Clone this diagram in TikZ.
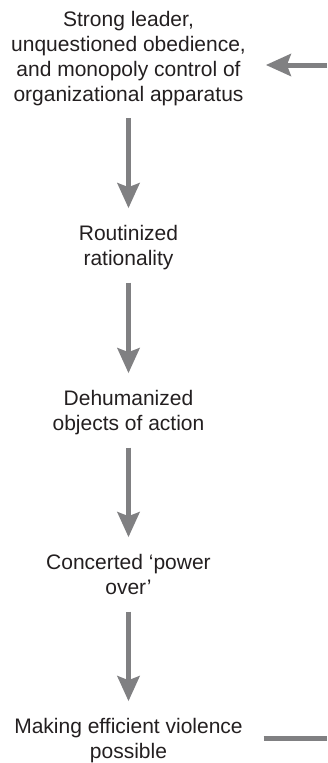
\documentclass[tikz,border=0pt]{standalone}
\usepackage{fontspec}
\setmainfont{Liberation Sans}
\usetikzlibrary{arrows.meta}
\definecolor{flowgray}{RGB}{128,128,130}
\definecolor{inkgray}{RGB}{35,31,32}
\begin{document}
\begin{tikzpicture}[x=1pt,y=1pt,
  stage/.style={align=center, inner sep=0pt, outer sep=0pt, anchor=north,
    text=inkgray, font=\fontsize{21}{24.7}\selectfont},
  flow/.style={draw=flowgray, line width=5pt,
    -{Stealth[length=25pt,width=22pt,inset=4pt]}},
  down/.style={flow, shorten <=9.5pt, shorten >=15.5pt},
  plain/.style={draw=flowgray, line width=5pt}]
  \useasboundingbox (0,0) rectangle (327,-763);

  % stages of the process, top to bottom
  \node[stage] (lead) at (128.5,-9.7)
    {\strut Strong leader,\\\strut unquestioned obedience,\\\strut and monopoly control of\\\strut organizational apparatus};
  \node[stage] (rout) at (128.5,-223.7)
    {\strut Routinized\\\strut rationality};
  \node[stage] (dehum) at (128.5,-388.7)
    {\strut Dehumanized\\\strut objects of action};
  \node[stage] (power) at (128.5,-552.7)
    {\strut Concerted `power\\\strut over'};
  \node[stage] (viol) at (128.5,-716.7)
    {\strut Making efficient violence\\\strut possible};

  % downward flow
  \draw[down] (lead) -- (rout);
  \draw[down] (rout) -- (dehum);
  \draw[down] (dehum) -- (power);
  \draw[down] (power) -- (viol);

  % feedback ends at the right edge
  \coordinate (backin) at (327,-65);
  \coordinate (backout) at (327,-738);
  \draw[flow, shorten >=20pt] (backin) -- (backin -| lead.east);
  \draw[plain, shorten <=21pt] (backout -| viol.east) -- (backout);
\end{tikzpicture}
\end{document}
